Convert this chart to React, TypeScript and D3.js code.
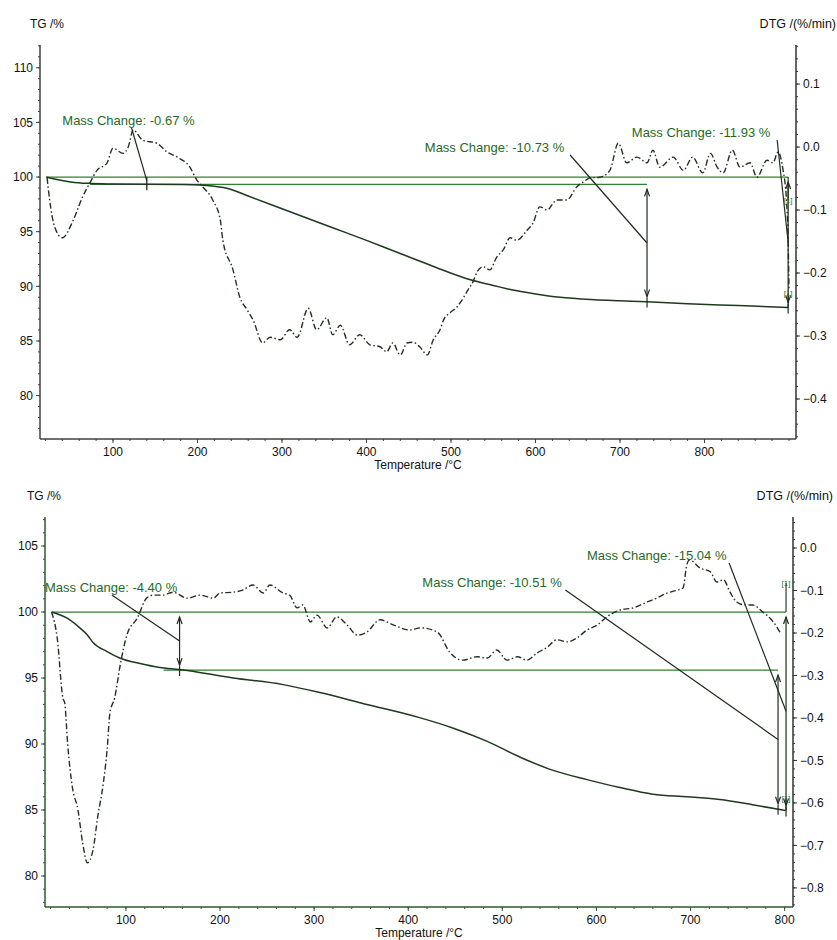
import * as d3 from "d3";

type Pt = [number, number];

type Step = {
  temp: number;
  from: number;
  to: number;
  label: string;
  labelTemp: number;
  labelMass: number;
  leaderTemp: number;
};

type Level = { mass: number; from: number; to: number };

// upper run, heated to ~900 °C
const upTg: Pt[] = [
  [21, 100], [35, 99.75], [50, 99.55], [70, 99.42], [100, 99.36], [140, 99.33],
  [180, 99.31], [203, 99.27], [220, 99.15], [238, 98.9], [260, 98.26], [300, 97.1],
  [330, 96.23], [360, 95.36], [400, 94.2], [430, 93.3], [455, 92.55], [475, 91.95],
  [495, 91.35], [523, 90.6], [550, 90.08], [573, 89.66], [600, 89.3], [629, 89.0],
  [670, 88.78], [700, 88.68], [732, 88.58], [780, 88.4], [840, 88.24], [899, 88.07],
];

const upDtg: Pt[] = [
  [22, -0.049], [25, -0.084], [31, -0.127], [40, -0.144], [53, -0.116], [64, -0.079],
  [73, -0.056], [81, -0.037], [93, -0.025], [100, -0.002], [112, -0.01], [118, 0.0],
  [124, 0.027], [135, 0.011], [152, 0.006], [164, -0.008], [176, -0.016], [191, -0.032],
  [199, -0.052], [206, -0.063], [218, -0.084], [227, -0.116], [230, -0.148], [242, -0.195],
  [250, -0.238], [259, -0.259], [266, -0.275], [277, -0.311], [286, -0.302], [298, -0.306],
  [309, -0.29], [318, -0.302], [331, -0.256], [341, -0.29], [353, -0.271], [360, -0.298],
  [369, -0.283], [380, -0.314], [392, -0.298], [404, -0.314], [416, -0.317], [424, -0.325],
  [431, -0.311], [440, -0.33], [448, -0.311], [455, -0.31], [463, -0.317], [472, -0.33],
  [479, -0.306], [487, -0.29], [491, -0.275], [499, -0.263], [507, -0.254], [513, -0.243],
  [520, -0.227], [526, -0.214], [531, -0.198], [538, -0.19], [546, -0.195], [554, -0.175],
  [562, -0.163], [570, -0.144], [578, -0.148], [590, -0.132], [597, -0.121], [605, -0.095],
  [614, -0.1], [621, -0.089], [625, -0.084], [637, -0.084], [649, -0.063], [656, -0.056],
  [665, -0.049], [676, -0.048], [688, -0.037], [698, 0.006], [708, -0.025], [720, -0.016],
  [732, -0.025], [739, -0.005], [747, -0.032], [763, -0.016], [775, -0.037], [786, -0.016],
  [798, -0.041], [807, -0.01], [815, -0.032], [822, -0.041], [833, -0.005], [842, -0.032],
  [854, -0.025], [862, -0.048], [874, -0.021], [881, -0.025], [887, -0.008], [893, -0.037],
  [897, -0.084], [899, -0.148], [900, -0.225],
];

const upMassTicks = [80, 85, 90, 95, 100, 105, 110];
const upRateTicks = [-0.4, -0.3, -0.2, -0.1, 0.0, 0.1];
const upTempTicks = [100, 200, 300, 400, 500, 600, 700, 800];

const upSteps: Step[] = [
  { temp: 140, from: 100, to: 99.33, label: "Mass Change: -0.67 %", labelTemp: 40, labelMass: 104.76, leaderTemp: 122 },
  { temp: 732, from: 99.33, to: 88.6, label: "Mass Change: -10.73 %", labelTemp: 469, labelMass: 102.29, leaderTemp: 641 },
  { temp: 899, from: 100, to: 88.07, label: "Mass Change: -11.93 %", labelTemp: 714, labelMass: 103.66, leaderTemp: 886 },
];

const upLevels: Level[] = [
  { mass: 100, from: 21, to: 899 },
  { mass: 99.33, from: 73, to: 732 },
];

// lower run, heated to ~800 °C
const lowTg: Pt[] = [
  [21, 100], [37, 99.55], [51, 98.8], [59, 98.26], [65, 97.7], [80, 97.0], [94, 96.5],
  [115, 96.1], [136, 95.8], [157, 95.65], [214, 95.0], [267, 94.5], [306, 93.9],
  [356, 93.0], [412, 92.0], [448, 91.2], [484, 90.2], [519, 89.0], [554, 88.0],
  [590, 87.3], [625, 86.7], [660, 86.2], [696, 86.0], [731, 85.8], [766, 85.4], [801, 84.96],
];

const lowDtg: Pt[] = [
  [21, -0.151], [27, -0.212], [33, -0.353], [35, -0.365], [38, -0.459], [43, -0.562],
  [49, -0.616], [54, -0.694], [59, -0.741], [65, -0.711], [70, -0.633], [76, -0.553],
  [80, -0.475], [83, -0.388], [88, -0.353], [94, -0.275], [101, -0.205], [112, -0.165],
  [122, -0.118], [129, -0.111], [139, -0.111], [150, -0.104], [165, -0.118], [179, -0.111],
  [193, -0.118], [200, -0.106], [214, -0.104], [224, -0.099], [235, -0.087], [246, -0.106],
  [253, -0.087], [267, -0.106], [274, -0.111], [282, -0.141], [288, -0.134], [296, -0.174],
  [303, -0.158], [314, -0.188], [324, -0.162], [335, -0.181], [346, -0.205], [356, -0.198],
  [370, -0.169], [384, -0.181], [402, -0.193], [413, -0.188], [431, -0.198], [444, -0.245],
  [458, -0.264], [473, -0.256], [484, -0.259], [494, -0.24], [505, -0.264], [516, -0.256],
  [526, -0.264], [537, -0.247], [548, -0.233], [558, -0.216], [569, -0.221], [579, -0.212],
  [590, -0.193], [601, -0.181], [611, -0.162], [625, -0.146], [639, -0.141], [654, -0.127],
  [664, -0.118], [675, -0.106], [686, -0.099], [692, -0.094], [696, -0.04], [699, -0.028],
  [710, -0.047], [721, -0.056], [728, -0.08], [735, -0.075], [742, -0.104], [749, -0.127],
  [758, -0.134], [766, -0.134], [777, -0.151], [788, -0.174], [795, -0.198],
];

const lowMassTicks = [80, 85, 90, 95, 100, 105];
const lowRateTicks = [-0.8, -0.7, -0.6, -0.5, -0.4, -0.3, -0.2, -0.1, 0.0];
const lowTempTicks = [100, 200, 300, 400, 500, 600, 700, 800];

const lowSteps: Step[] = [
  { temp: 157, from: 100, to: 95.6, label: "Mass Change: -4.40 %", labelTemp: 14, labelMass: 101.52, leaderTemp: 85 },
  { temp: 793, from: 95.6, to: 85.09, label: "Mass Change: -10.51 %", labelTemp: 415, labelMass: 101.9, leaderTemp: 567 },
  { temp: 801.5, from: 100, to: 84.96, label: "Mass Change: -15.04 %", labelTemp: 590, labelMass: 103.94, leaderTemp: 741 },
];

const lowLevels: Level[] = [
  { mass: 100, from: 21, to: 801.5 },
  { mass: 95.6, from: 140, to: 793 },
];

const FONT = "'Liberation Sans', Arial, sans-serif";
const INK = "#1f2b1f";
const LEVEL = "#2f802f";
const LABEL = "#1f6a1f";

type PanelProps = {
  box: { x0: number; x1: number; y0: number; y1: number };
  tempDomain: [number, number];
  massDomain: [number, number];
  rateDomain: [number, number];
  tg: Pt[];
  dtg: Pt[];
  steps: Step[];
  levels: Level[];
  massTicks: number[];
  rateTicks: number[];
  tempTicks: number[];
  axisColor: string;
  tgTitleShift: number;
  tags: { dy: number; atTo: boolean }[];
};

function Panel({
  box,
  tempDomain,
  massDomain,
  rateDomain,
  tg,
  dtg,
  steps,
  levels,
  massTicks,
  rateTicks,
  tempTicks,
  axisColor,
  tgTitleShift,
  tags,
}: PanelProps) {
  const x = d3.scaleLinear().domain(tempDomain).range([box.x0, box.x1]);
  const yM = d3.scaleLinear().domain(massDomain).range([box.y1, box.y0]);
  const yR = d3.scaleLinear().domain(rateDomain).range([box.y1, box.y0]);

  const tgLine = d3
    .line<Pt>()
    .x((d) => x(d[0]))
    .y((d) => yM(d[1]))
    .curve(d3.curveMonotoneX);
  const dtgLine = d3
    .line<Pt>()
    .x((d) => x(d[0]))
    .y((d) => yR(d[1]))
    .curve(d3.curveMonotoneX);

  const massMinor = d3.range(Math.ceil(massDomain[0]), massDomain[1], 1);
  const tempMinor = d3.range(Math.ceil(tempDomain[0] / 20) * 20, tempDomain[1], 20);
  const rateMinor = d3
    .range(Math.ceil(rateDomain[0] * 50), Math.floor(rateDomain[1] * 50) + 1)
    .map((k) => k / 50);

  const last = steps[steps.length - 1];

  return (
    <g fontFamily={FONT}>
      {/* axes */}
      <line x1={box.x0} x2={box.x0} y1={box.y0} y2={box.y1} stroke={axisColor} strokeWidth={1.5} />
      <line x1={box.x1} x2={box.x1} y1={box.y0} y2={box.y1} stroke="#333" strokeWidth={1.5} />
      <line x1={box.x0} x2={box.x1} y1={box.y1} y2={box.y1} stroke={axisColor} strokeWidth={1.5} />

      {massMinor.map((v) => (
        <line key={"mm" + v} x1={box.x0 - 2} x2={box.x0} y1={yM(v)} y2={yM(v)} stroke={axisColor} />
      ))}
      {massTicks.map((v) => (
        <g key={"mt" + v}>
          <line x1={box.x0 - 4} x2={box.x0} y1={yM(v)} y2={yM(v)} stroke={axisColor} />
          <text x={box.x0 - 7} y={yM(v)} dy="0.35em" textAnchor="end" fontSize={12} fill="#111">
            {v}
          </text>
        </g>
      ))}

      {rateMinor.map((v) => (
        <line key={"rm" + v} x1={box.x1} x2={box.x1 + 2} y1={yR(v)} y2={yR(v)} stroke="#333" />
      ))}
      {rateTicks.map((v) => (
        <g key={"rt" + v}>
          <line x1={box.x1} x2={box.x1 + 4} y1={yR(v)} y2={yR(v)} stroke="#333" />
          <text x={box.x1 + 7} y={yR(v)} dy="0.35em" fontSize={12} fill="#111">
            {d3.format(".1f")(v)}
          </text>
        </g>
      ))}

      {tempMinor.map((v) => (
        <line key={"tm" + v} x1={x(v)} x2={x(v)} y1={box.y1} y2={box.y1 + 2} stroke={axisColor} />
      ))}
      {tempTicks.map((v) => (
        <g key={"tt" + v}>
          <line x1={x(v)} x2={x(v)} y1={box.y1} y2={box.y1 + 4} stroke={axisColor} />
          <text x={x(v)} y={box.y1 + 17} textAnchor="middle" fontSize={12} fill="#111">
            {v}
          </text>
        </g>
      ))}

      <text x={box.x0 - tgTitleShift} y={box.y0 - 17} fontSize={12} fill="#111">
        TG /%
      </text>
      <text x={box.x1 + 40} y={box.y0 - 17} textAnchor="end" fontSize={12.5} fill="#111">
        DTG /(%/min)
      </text>
      <text x={(box.x0 + box.x1) / 2} y={box.y1 + 30} textAnchor="middle" fontSize={12} fill="#111">
        Temperature /°C
      </text>

      {/* mass levels */}
      {levels.map((l, i) => (
        <line
          key={"lv" + i}
          x1={x(l.from)}
          x2={x(l.to)}
          y1={yM(l.mass)}
          y2={yM(l.mass)}
          stroke={LEVEL}
          strokeWidth={1.3}
        />
      ))}

      {/* curves */}
      <path d={dtgLine(dtg) ?? ""} fill="none" stroke="#223022" strokeWidth={1.4} strokeDasharray="6,2.5,1.5,2.5" />
      <path d={tgLine(tg) ?? ""} fill="none" stroke="#1d3a1d" strokeWidth={1.5} />

      {/* mass-change markers */}
      {steps.map((s, i) => {
        const sx = x(s.temp);
        const ya = yM(s.from);
        const yb = yM(s.to);
        const mid = (ya + yb) / 2;
        const lx = x(s.labelTemp);
        const ly = yM(s.labelMass);
        const big = yb - ya > 20;
        return (
          <g key={"st" + i}>
            <text x={lx} y={ly} fontSize={13} fill={LABEL}>
              {s.label}
            </text>
            <line x1={x(s.leaderTemp)} y1={ly + 3} x2={sx} y2={mid} stroke={INK} strokeWidth={1.2} />
            {big ? (
              <g stroke={INK} strokeWidth={1.2} fill="none">
                <line x1={sx} x2={sx} y1={ya + 5} y2={yb - 5} />
                <path d={`M${sx - 2.5},${ya + 12}L${sx},${ya + 5}L${sx + 2.5},${ya + 12}`} />
                <path d={`M${sx - 2.5},${yb - 12}L${sx},${yb - 5}L${sx + 2.5},${yb - 12}`} />
                <line x1={sx} x2={sx} y1={yb - 4} y2={yb + 6} />
              </g>
            ) : (
              <line x1={sx} x2={sx} y1={ya} y2={yb + 6} stroke={INK} strokeWidth={1.3} />
            )}
          </g>
        );
      })}

      {tags.map((t, i) => {
        const sx = x(last.temp);
        const base = yM(t.atTo ? last.to : last.from);
        const ty = base + t.dy;
        return (
          <g key={"tg" + i}>
            <line x1={sx} x2={sx} y1={ty} y2={base} stroke={INK} strokeWidth={1.1} />
            <text x={sx} y={ty} dy="0.35em" textAnchor="middle" fontSize={8} fill={LABEL}>
              [1]
            </text>
          </g>
        );
      })}
    </g>
  );
}

export default function App() {
  return (
    <svg
      width={837}
      height={940}
      style={{ position: "absolute", left: 0, top: 0, background: "#fff" }}
    >
      <rect width={837} height={940} fill="#fff" />
      <Panel
        box={{ x0: 40, x1: 796, y0: 45, y1: 439 }}
        tempDomain={[13.6, 908.3]}
        massDomain={[76.03, 112.08]}
        rateDomain={[-0.4635, 0.162]}
        tg={upTg}
        dtg={upDtg}
        steps={upSteps}
        levels={upLevels}
        massTicks={upMassTicks}
        rateTicks={upRateTicks}
        tempTicks={upTempTicks}
        axisColor="#404040"
        tgTitleShift={10}
        tags={[
          { dy: 23, atTo: false },
          { dy: -14, atTo: true },
        ]}
      />
      <Panel
        box={{ x0: 45, x1: 793, y0: 517, y1: 907 }}
        tempDomain={[14, 808.9]}
        massDomain={[77.65, 107.2]}
        rateDomain={[-0.845, 0.073]}
        tg={lowTg}
        dtg={lowDtg}
        steps={lowSteps}
        levels={lowLevels}
        massTicks={lowMassTicks}
        rateTicks={lowRateTicks}
        tempTicks={lowTempTicks}
        axisColor="#2d5a2d"
        tgTitleShift={18}
        tags={[
          { dy: -29, atTo: false },
          { dy: -12, atTo: true },
        ]}
      />
    </svg>
  );
}
